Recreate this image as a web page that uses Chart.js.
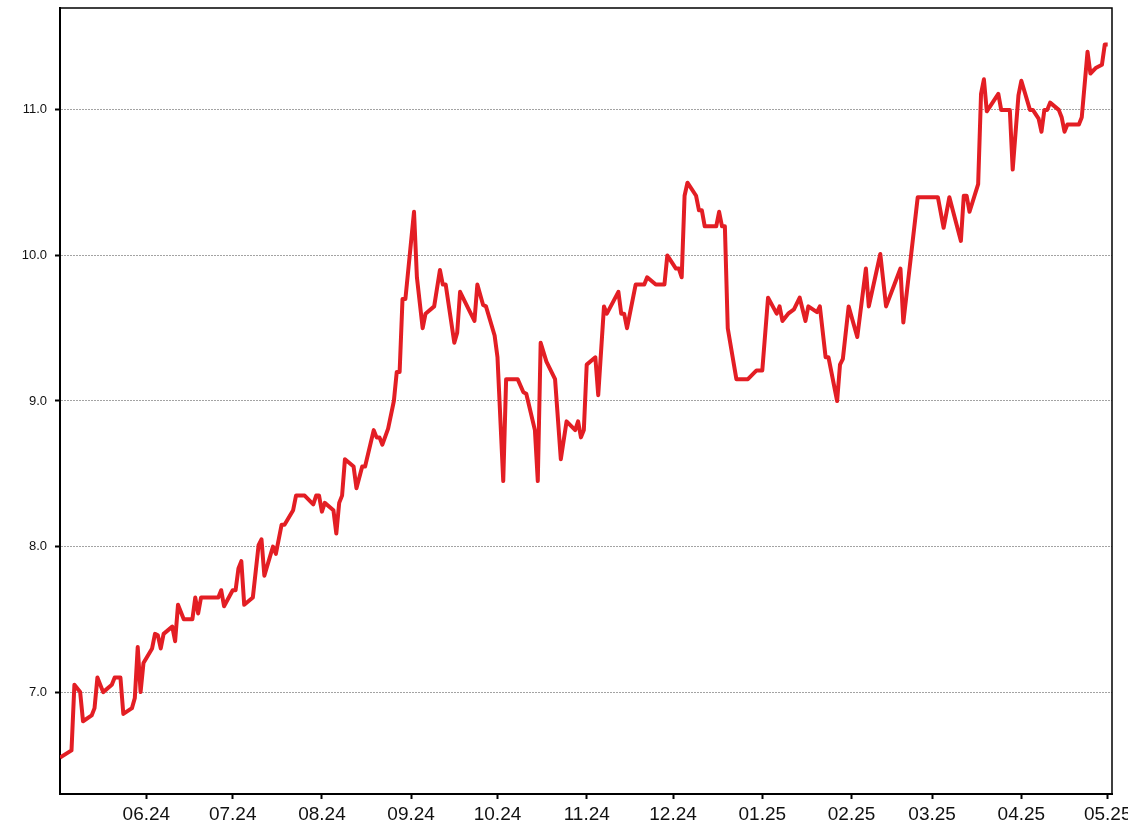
<!DOCTYPE html>
<html>
<head>
<meta charset="utf-8">
<script src="https://cdn.jsdelivr.net/npm/chart.js@4.4.1/dist/chart.umd.min.js"></script>
<style>
  body { margin: 0; background: #fff; }
  #chart { display: block; }
</style>
</head>
<body>
<canvas id="chart" width="1128" height="836"></canvas>
<script>
'use strict';

/*********** DATA ***********/
var dates = [
  '2024-05-02', '2024-05-06', '2024-05-07', '2024-05-09', '2024-05-10', '2024-05-13', '2024-05-14', '2024-05-15',
  '2024-05-17', '2024-05-20', '2024-05-21', '2024-05-23', '2024-05-24', '2024-05-27', '2024-05-28', '2024-05-29',
  '2024-05-30', '2024-05-31', '2024-06-03', '2024-06-04', '2024-06-05', '2024-06-06', '2024-06-07', '2024-06-10',
  '2024-06-11', '2024-06-12', '2024-06-14', '2024-06-17', '2024-06-18', '2024-06-19', '2024-06-20', '2024-06-26',
  '2024-06-27', '2024-06-28', '2024-07-01', '2024-07-02', '2024-07-03', '2024-07-04', '2024-07-05', '2024-07-08',
  '2024-07-10', '2024-07-11', '2024-07-12', '2024-07-15', '2024-07-16', '2024-07-18', '2024-07-19', '2024-07-22',
  '2024-07-23', '2024-07-26', '2024-07-29', '2024-07-30', '2024-07-31', '2024-08-01', '2024-08-02', '2024-08-05',
  '2024-08-06', '2024-08-07', '2024-08-08', '2024-08-09', '2024-08-12', '2024-08-13', '2024-08-15', '2024-08-16',
  '2024-08-19', '2024-08-20', '2024-08-21', '2024-08-22', '2024-08-24', '2024-08-26', '2024-08-27', '2024-08-28',
  '2024-08-29', '2024-08-30', '2024-09-02', '2024-09-03', '2024-09-05', '2024-09-06', '2024-09-09', '2024-09-11',
  '2024-09-12', '2024-09-13', '2024-09-16', '2024-09-17', '2024-09-18', '2024-09-21', '2024-09-23', '2024-09-24',
  '2024-09-26', '2024-09-27', '2024-09-30', '2024-10-01', '2024-10-03', '2024-10-04', '2024-10-08', '2024-10-10',
  '2024-10-11', '2024-10-14', '2024-10-15', '2024-10-16', '2024-10-18', '2024-10-21', '2024-10-23', '2024-10-25',
  '2024-10-28', '2024-10-29', '2024-10-30', '2024-10-31', '2024-11-01', '2024-11-04', '2024-11-05', '2024-11-07',
  '2024-11-08', '2024-11-12', '2024-11-13', '2024-11-14', '2024-11-15', '2024-11-18', '2024-11-21', '2024-11-22',
  '2024-11-25', '2024-11-28', '2024-11-29', '2024-12-02', '2024-12-03', '2024-12-04', '2024-12-05', '2024-12-06',
  '2024-12-09', '2024-12-10', '2024-12-11', '2024-12-12', '2024-12-16', '2024-12-17', '2024-12-18', '2024-12-19',
  '2024-12-20', '2024-12-23', '2024-12-27', '2024-12-30', '2025-01-01', '2025-01-03', '2025-01-06', '2025-01-07',
  '2025-01-08', '2025-01-10', '2025-01-12', '2025-01-14', '2025-01-16', '2025-01-17', '2025-01-20', '2025-01-21',
  '2025-01-23', '2025-01-24', '2025-01-27', '2025-01-28', '2025-01-29', '2025-01-31', '2025-02-03', '2025-02-06',
  '2025-02-07', '2025-02-11', '2025-02-13', '2025-02-18', '2025-02-19', '2025-02-24', '2025-03-03', '2025-03-05',
  '2025-03-07', '2025-03-11', '2025-03-12', '2025-03-13', '2025-03-14', '2025-03-17', '2025-03-18', '2025-03-19',
  '2025-03-20', '2025-03-24', '2025-03-25', '2025-03-28', '2025-03-29', '2025-03-31', '2025-04-01', '2025-04-04',
  '2025-04-05', '2025-04-07', '2025-04-08', '2025-04-09', '2025-04-10', '2025-04-11', '2025-04-14', '2025-04-15',
  '2025-04-16', '2025-04-17', '2025-04-21', '2025-04-22', '2025-04-24', '2025-04-25', '2025-04-27', '2025-04-29',
  '2025-04-30', '2025-05-01'
];
var prices = [
  6.55, 6.60, 7.05, 7.00, 6.80, 6.84, 6.89, 7.10,
  7.00, 7.05, 7.10, 7.10, 6.85, 6.89, 6.96, 7.31,
  7.00, 7.20, 7.30, 7.40, 7.39, 7.30, 7.40, 7.45,
  7.35, 7.60, 7.50, 7.50, 7.65, 7.54, 7.65, 7.65,
  7.70, 7.59, 7.70, 7.70, 7.85, 7.90, 7.60, 7.65,
  8.01, 8.05, 7.80, 8.00, 7.95, 8.15, 8.15, 8.25,
  8.35, 8.35, 8.29, 8.35, 8.35, 8.24, 8.30, 8.25,
  8.09, 8.30, 8.35, 8.60, 8.55, 8.40, 8.55, 8.55,
  8.80, 8.75, 8.75, 8.70, 8.81, 9.00, 9.20, 9.20,
  9.70, 9.70, 10.30, 9.85, 9.50, 9.60, 9.65, 9.90,
  9.80, 9.80, 9.40, 9.47, 9.75, 9.63, 9.55, 9.80,
  9.66, 9.65, 9.45, 9.30, 8.45, 9.15, 9.15, 9.06,
  9.05, 8.80, 8.45, 9.40, 9.27, 9.15, 8.60, 8.86,
  8.80, 8.86, 8.75, 8.80, 9.25, 9.30, 9.04, 9.65,
  9.60, 9.75, 9.60, 9.60, 9.50, 9.80, 9.80, 9.85,
  9.80, 9.80, 10.00, 9.91, 9.91, 9.85, 10.41, 10.50,
  10.41, 10.31, 10.31, 10.20, 10.20, 10.30, 10.20, 10.20,
  9.50, 9.15, 9.15, 9.21, 9.21, 9.71, 9.60, 9.65,
  9.55, 9.60, 9.63, 9.71, 9.55, 9.65, 9.61, 9.65,
  9.30, 9.30, 9.00, 9.25, 9.29, 9.65, 9.44, 9.91,
  9.65, 10.01, 9.65, 9.91, 9.54, 10.40, 10.40, 10.19,
  10.40, 10.10, 10.41, 10.41, 10.30, 10.49, 11.11, 11.21,
  10.99, 11.11, 11.00, 11.00, 10.59, 11.10, 11.20, 11.00,
  11.00, 10.94, 10.85, 11.00, 11.00, 11.05, 11.00, 10.95,
  10.85, 10.90, 10.90, 10.95, 11.40, 11.25, 11.29, 11.31,
  11.45, 11.45
];
var monthTicks = [
  '2024-06-01', '2024-07-01', '2024-08-01', '2024-09-01', '2024-10-01', '2024-11-01',
  '2024-12-01', '2025-01-01', '2025-02-01', '2025-03-01', '2025-04-01', '2025-05-01'
];
var yTicks = [7, 8, 9, 10, 11];
var yMin = 6.3;
var yMax = 11.7;

/*********** HELPERS ***********/
var DAY = 86400000;

function toDay(s) {
  var p = s.split('-');
  return Date.UTC(+p[0], +p[1] - 1, +p[2]) / DAY;
}

function monthLabel(day) {
  var d = new Date(Math.round(day) * DAY);
  var m = d.getUTCMonth() + 1;
  return (m < 10 ? '0' + m : '' + m) + '.' + String(d.getUTCFullYear()).slice(2);
}

var points = [];
for (var i = 0; i < dates.length; i++) {
  points.push({ x: toDay(dates[i]), y: prices[i] });
}

// draws the top and right edges of the plot box
var frame = {
  id: 'frame',
  afterDraw: function (chart) {
    var a = chart.chartArea;
    var ctx = chart.ctx;
    ctx.save();
    ctx.strokeStyle = '#000';
    ctx.lineWidth = 1.5;
    ctx.beginPath();
    ctx.moveTo(a.left, a.top);
    ctx.lineTo(a.right, a.top);
    ctx.lineTo(a.right, a.bottom);
    ctx.stroke();
    ctx.restore();
  }
};

/*********** CHART ***********/
var ctx = document.getElementById('chart').getContext('2d');
new Chart(ctx, {
  type: 'line',
  data: {
    datasets: [{
      data: points,
      borderColor: '#e31e24',
      borderWidth: 4,
      borderJoinStyle: 'round',
      pointRadius: 0,
      tension: 0,
      fill: false
    }]
  },
  options: {
    responsive: false,
    animation: false,
    layout: { padding: { top: 8, right: 16, left: 0, bottom: 0 } },
    plugins: {
      legend: { display: false },
      tooltip: { enabled: false }
    },
    scales: {
      x: {
        type: 'linear',
        min: toDay(dates[0]),
        max: toDay(dates[dates.length - 1]) + 1.5,
        afterBuildTicks: function (scale) {
          scale.ticks = monthTicks.map(function (m) { return { value: toDay(m) }; });
        },
        afterFit: function (scale) {
          scale.height = 42;
          scale.paddingLeft = 0;
          scale.paddingRight = 0;
        },
        grid: {
          drawOnChartArea: false,
          drawTicks: true,
          tickLength: 5,
          tickWidth: 2,
          tickColor: '#000'
        },
        border: { display: true, color: '#000', width: 2 },
        ticks: {
          autoSkip: false,
          maxRotation: 0,
          padding: 4,
          color: '#111',
          font: { family: 'Liberation Sans, Arial, sans-serif', size: 19 },
          callback: function (v) { return monthLabel(v); }
        }
      },
      y: {
        min: yMin,
        max: yMax,
        afterBuildTicks: function (scale) {
          scale.ticks = yTicks.map(function (v) { return { value: v }; });
        },
        afterFit: function (scale) {
          scale.width = 60;
          scale.paddingTop = 0;
          scale.paddingBottom = 0;
        },
        grid: {
          color: '#8c8c8c',
          lineWidth: 0.8,
          drawTicks: true,
          tickLength: 5,
          tickWidth: 2,
          tickColor: '#000',
          tickBorderDash: []
        },
        border: { display: true, color: '#000', width: 2, dash: [2, 1] },
        ticks: {
          padding: 8,
          color: '#111',
          font: { family: 'Liberation Sans, Arial, sans-serif', size: 13 },
          callback: function (v) { return v.toFixed(1); }
        }
      }
    }
  },
  plugins: [frame]
});
</script>
</body>
</html>
